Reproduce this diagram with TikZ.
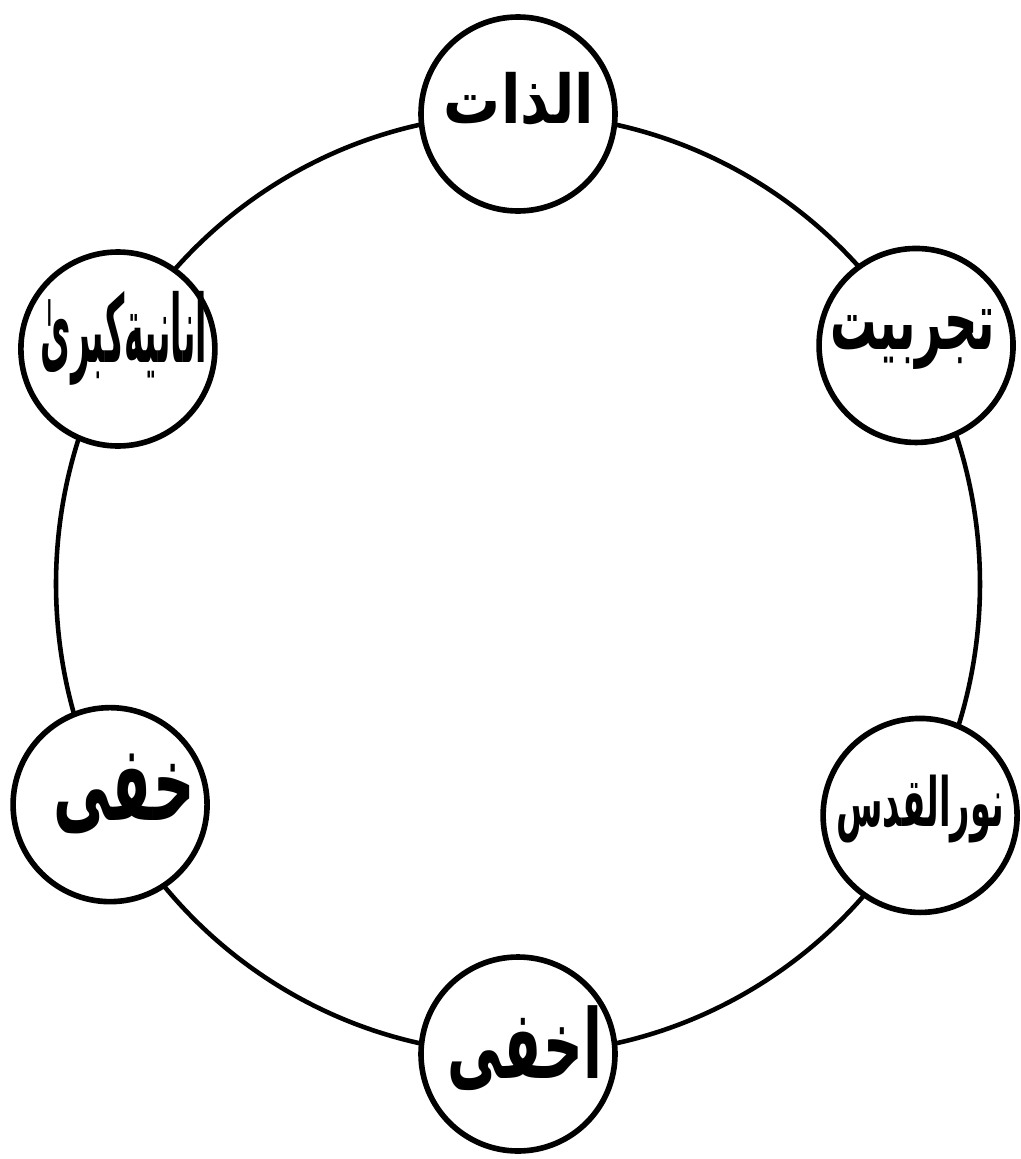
\documentclass[tikz,border=0pt]{standalone}
\usepackage{fontspec}
\usepackage{graphicx}
\usetikzlibrary{calc}
\newfontfamily\arabicfont[Script=Arabic]{DejaVu Sans}
\TeXXeTstate=1
\newcommand\artxt[3]{\resizebox*{#1}{#2}{\arabicfont\bfseries\beginR #3\endR}}
\pgfdeclarelayer{ringlayer}
\pgfsetlayers{ringlayer,main}
\begin{document}
\begin{tikzpicture}[x=1cm,y=1cm]
\tikzset{
  stage/.style={circle, draw=black, line width=3.2pt, fill=white, minimum size=3.88cm, inner sep=0pt},
  stagetext/.style={inner sep=0pt, text=black},
  ring/.style={draw=black, line width=2.6pt},
  ringarc/.style={x radius=9.24, y radius=9.40}
}
\useasboundingbox (0,0) rectangle (20.42,-23.18);
\coordinate (c) at (10.36,-11.68);
\node[stage] (top) at ($(c)+(90:9.24 and 9.40)$) {};
\node[stage] (ur)  at ($(c)+(30.5:9.24 and 9.40)$) {};
\node[stage] (lr)  at ($(c)+(-29.5:9.24 and 9.40)$) {};
\node[stage] (bot) at ($(c)+(-90:9.24 and 9.40)$) {};
\node[stage] (ll)  at ($(c)+(208:9.24 and 9.40)$) {};
\node[stage] (ul)  at ($(c)+(150:9.24 and 9.40)$) {};
\begin{pgfonlayer}{ringlayer}
\draw[ring] (top.center) arc[ringarc, start angle=90, end angle=30.5];
\draw[ring] (ur.center) arc[ringarc, start angle=30.5, end angle=-29.5];
\draw[ring] (lr.center) arc[ringarc, start angle=-29.5, end angle=-90];
\draw[ring] (bot.center) arc[ringarc, start angle=-90, end angle=-152];
\draw[ring] (ll.center) arc[ringarc, start angle=-152, end angle=-210];
\draw[ring] (ul.center) arc[ringarc, start angle=150, end angle=90];
\end{pgfonlayer}
\node[stagetext] (topt) at ([shift={(0.02,0.30)}]top.center) {\artxt{3.0cm}{1.06cm}{الذات}};
\node[stagetext] (urt)  at ([shift={(-0.07,0.12)}]ur.center) {\artxt{3.3cm}{1.2cm}{تجربیت}};
\node[stagetext] (lrt)  at ([shift={(0,0.12)}]lr.center) {\artxt{3.35cm}{1.36cm}{نورالقدس}};
\node[stagetext] (bott) at ([shift={(0.14,0.12)}]bot.center) {\artxt{3.08cm}{1.7cm}{اخفی}};
\node[stagetext] (llt)  at ([shift={(0.28,0.22)}]ll.center) {\artxt{2.82cm}{1.6cm}{خفی}};
\node[stagetext] (ult)  at ([shift={(0.12,0.22)}]ul.center) {\artxt{3.32cm}{1.88cm}{انانیةکبریٰ}};
\end{tikzpicture}
\end{document}
